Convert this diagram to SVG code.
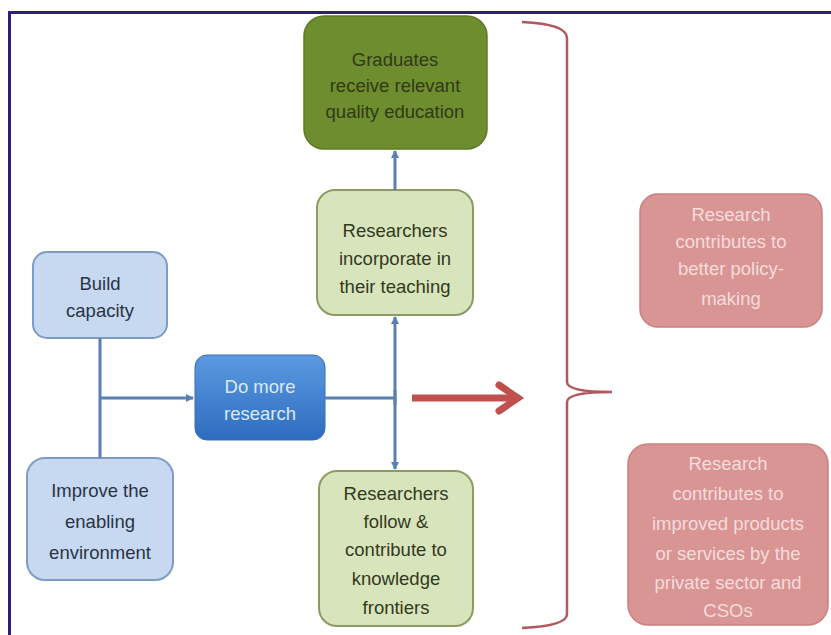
<svg xmlns="http://www.w3.org/2000/svg" width="831" height="635" viewBox="0 0 831 635">
<defs>
<linearGradient id="gBlue" x1="0" y1="0" x2="0" y2="1">
<stop offset="0" stop-color="#5b9ae0"/>
<stop offset="1" stop-color="#2e6cc0"/>
</linearGradient>
<marker id="ah" markerWidth="8" markerHeight="8" refX="7" refY="4" orient="auto" markerUnits="userSpaceOnUse">
<path d="M0,0 L8,4 L0,8 Z" fill="#5a7fb0"/>
</marker>
<style>
text{font-family:"Liberation Sans","Open Sans",Arial,sans-serif;font-size:18.5px;text-anchor:middle;dominant-baseline:central}
.blue rect{fill:#c6d9f0;stroke:#7f9cc4;stroke-width:2}
.blue text{fill:#2a3444}
.lg rect{fill:#d8e4bc;stroke:#8d9a62;stroke-width:2}
.lg text{fill:#33391c}
.pink rect{fill:#d99594;stroke:#c9807f;stroke-width:1.5}
.pink text{fill:#f6dcdc}
.conn{stroke:#5a7fb0;stroke-width:3;fill:none}
</style>
</defs>
<rect x="0" y="0" width="831" height="635" fill="#ffffff"/>
<path d="M9.5,635 L9.5,12.5 L831,12.5" fill="none" stroke="#2e1f78" stroke-width="3"/>

<g id="graduates">
<rect x="304" y="16" width="183" height="133" rx="20" fill="#6e8d2f" stroke="#5f7a26" stroke-width="1.5"/>
<text x="395" y="59" fill="#2e3a16">Graduates</text>
<text x="395" y="85" fill="#2e3a16">receive relevant</text>
<text x="395" y="111" fill="#2e3a16">quality education</text>
</g>

<g id="incorporate" class="lg">
<rect x="317" y="190" width="156" height="125" rx="18"/>
<text x="395" y="230">Researchers</text>
<text x="395" y="258">incorporate in</text>
<text x="395" y="286">their teaching</text>
</g>

<g id="follow" class="lg">
<rect x="319" y="471" width="154" height="155" rx="18"/>
<text x="396" y="493">Researchers</text>
<text x="396" y="521">follow &amp;</text>
<text x="396" y="549">contribute to</text>
<text x="396" y="578">knowledge</text>
<text x="396" y="607">frontiers</text>
</g>

<g id="build" class="blue">
<rect x="33" y="252" width="134" height="86" rx="14"/>
<text x="100" y="283">Build</text>
<text x="100" y="310">capacity</text>
</g>

<g id="improve" class="blue">
<rect x="27" y="458" width="146" height="122" rx="18"/>
<text x="100" y="490">Improve the</text>
<text x="100" y="521">enabling</text>
<text x="100" y="552">environment</text>
</g>

<g id="research">
<rect x="195" y="355" width="130" height="85" rx="12" fill="url(#gBlue)" stroke="#3a6fb5" stroke-width="1"/>
<text x="260" y="386" fill="#dce9f8">Do more</text>
<text x="260" y="413" fill="#dce9f8">research</text>
</g>

<g id="policy" class="pink">
<rect x="640" y="194" width="182" height="133" rx="18"/>
<text x="731" y="214">Research</text>
<text x="731" y="241">contributes to</text>
<text x="731" y="268">better policy-</text>
<text x="731" y="298">making</text>
</g>

<g id="products" class="pink">
<rect x="628" y="444" width="200" height="181" rx="20"/>
<text x="728" y="463">Research</text>
<text x="728" y="493">contributes to</text>
<text x="728" y="523">improved products</text>
<text x="728" y="553">or services by the</text>
<text x="728" y="582">private sector and</text>
<text x="728" y="610">CSOs</text>
</g>

<g id="connectors">
<path class="conn" d="M100,338 L100,458"/>
<path class="conn" d="M100,398 L193,398" marker-end="url(#ah)"/>
<path class="conn" d="M325,398 L395,398"/>
<path class="conn" d="M395,405 L395,317" marker-end="url(#ah)"/>
<path class="conn" d="M395,390 L395,469" marker-end="url(#ah)"/>
<path class="conn" d="M395,190 L395,151" marker-end="url(#ah)"/>
<path d="M412,398 L516,398" stroke="#c0504d" stroke-width="7" fill="none"/>
<path d="M499,385 L518,398 L499,411" stroke="#c0504d" stroke-width="7" fill="none" stroke-linejoin="miter" stroke-linecap="round"/>
<path d="M522,22 Q567,24 567,38 L567,382 Q567,392 612,392 Q567,392 567,402 L567,614 Q567,626 522,628" stroke="#b0585e" stroke-width="2.5" fill="none"/>
</g>
</svg>
